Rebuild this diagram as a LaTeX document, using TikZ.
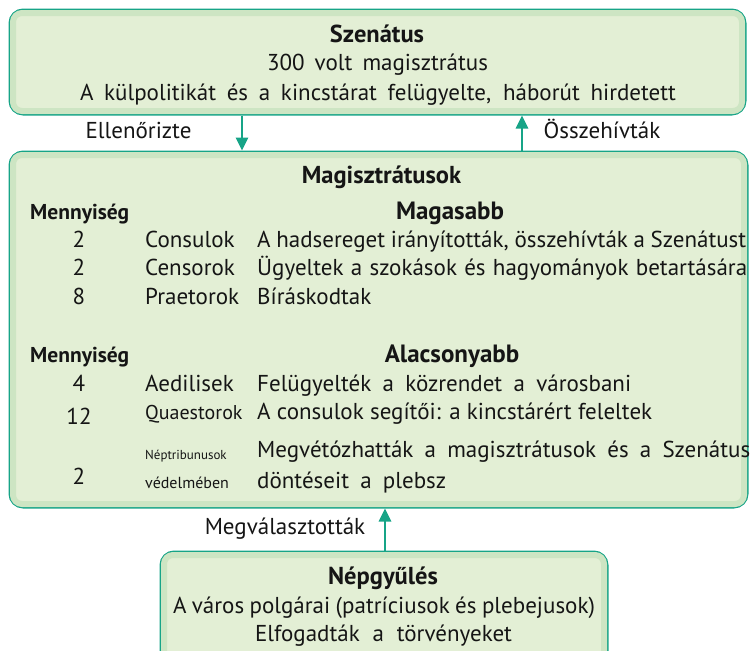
\documentclass[tikz,border=0pt]{standalone}
\usepackage{fontspec}
\setmainfont{PT Sans}
\usetikzlibrary{arrows.meta}
\definecolor{tealb}{HTML}{17A487}
\definecolor{fillg}{HTML}{E3EFD5}
\definecolor{glowg}{HTML}{CDE5C3}
\definecolor{txtc}{HTML}{151515}
\newcommand{\fsz}{\fontsize{23}{27}\selectfont}
\newcommand{\fhd}{\fontsize{24.5}{29}\selectfont\bfseries}
\newcommand{\fmen}{\fontsize{21.5}{25}\selectfont\bfseries}
\newcommand{\spbox}[2]{\makebox[#1pt][s]{#2}}
\begin{document}
\begin{tikzpicture}[x=1pt,y=-1pt,
  box/.style={draw=tealb, line width=3pt, fill=fillg, rounded corners=13pt, inner sep=0pt},
  glow/.style={draw=glowg, line width=6pt, rounded corners=9pt},
  arr/.style={draw=tealb, line width=2.6pt, -{Triangle[width=12pt,length=13pt]}},
  t/.style={inner sep=0pt, font=\fsz, text=txtc, anchor=mid, yshift=-4.5pt},
  tl/.style={t, anchor=mid west},
  hd/.style={t, font=\fhd},
]
\useasboundingbox (0,0) rectangle (753,651);
% boxes
\node[box, minimum width=735pt, minimum height=104pt] (sen) at (377.5,62) {};
\node[box, minimum width=737pt, minimum height=355pt] (mag) at (378.5,329.5) {};
\node[box, minimum width=446pt, minimum height=116pt] (nep) at (384,610) {};
\foreach \b in {sen,mag,nep}{
  \draw[glow] ([shift={(4.5,4.5)}]\b.north west) rectangle ([shift={(-4.5,-4.5)}]\b.south east);
}
% arrows
\coordinate (c1) at (242,0);
\coordinate (c2) at (522,0);
\coordinate (c3) at (385,0);
\draw[arr] (sen.south -| c1) -- (mag.north -| c1);
\draw[arr] (mag.north -| c2) -- (sen.south -| c2);
\draw[arr] (nep.north -| c3) -- (mag.south -| c3);
% arrow labels
\node[t] (l1) at (138.5,131) {Ellenőrizte};
\node[t] (l2) at (602,131) {Összehívták};
\node[t] (l3) at (285,527) {Megválasztották};
% Senate
\node[hd] (s1) at (377,35) {Szenátus};
\node[t] (s2) at (377.5,63) {\spbox{221}{300 volt magisztrátus}};
\node[t] (s3) at (378,93) {\spbox{596}{A külpolitikát és a kincstárat felügyelte, háborút hirdetett}};
% Magistrates
\node[hd] (m0) at (381.5,176) {Magisztrátusok};
\node[t, anchor=mid west, font=\fmen] (q1) at (30,212) {Mennyiség};
\node[hd, font=\fontsize{25}{29}\selectfont\bfseries] (h1) at (450,212) {Magasabb};
\node[t] (n1) at (79,240) {2};
\node[tl] (k1) at (145,240) {Consulok};
\node[tl] (d1) at (257,240) {\spbox{489}{A hadsereget irányították, összehívták a Szenátust}};
\node[t] (n2) at (79,268) {2};
\node[tl] (k2) at (145,268) {Censorok};
\node[tl] (d2) at (257,268) {\spbox{490}{Ügyeltek a szokások és hagyományok betartására}};
\node[t] (n3) at (79,297) {8};
\node[tl] (k3) at (145,297) {Praetorok};
\node[tl] (d3) at (257,297) {Bíráskodtak};
\node[t, anchor=mid west, font=\fmen] (q2) at (30,355) {Mennyiség};
\node[hd, font=\fontsize{25}{29}\selectfont\bfseries] (h2) at (452,355) {Alacsonyabb};
\node[t] (n4) at (79,384) {4};
\node[tl] (k4) at (145,384) {Aedilisek};
\node[tl] (d4) at (257,384) {\spbox{374}{Felügyelték a közrendet a városbani}};
\node[t] (n5) at (79,417) {12};
\node[tl, font=\fontsize{20}{24}\selectfont] (k5) at (145,412) {Quaestorok};
\node[tl] (d5) at (257,412) {\spbox{395}{A consulok segítői: a kincstárért feleltek}};
\node[tl, font=\fontsize{13}{15}\selectfont] (k6) at (145,452) {Néptribunusok};
\node[tl] (d6) at (257,450) {\spbox{493}{Megvétózhatták a magisztrátusok és a Szenátus}};
\node[t] (n6) at (79,477) {2};
\node[tl, font=\fontsize{16}{19}\selectfont] (k7) at (145,481) {védelmében};
\node[tl] (d7) at (257,481) {\spbox{189}{döntéseit a plebsz}};
% Assembly
\node[hd] (p1) at (383,577) {Népgyűlés};
\node[t] (p2) at (384,606) {\spbox{422}{A város polgárai (patríciusok és plebejusok)}};
\node[t] (p3) at (383.5,634) {\spbox{257}{Elfogadták a törvényeket}};
\end{tikzpicture}
\end{document}
